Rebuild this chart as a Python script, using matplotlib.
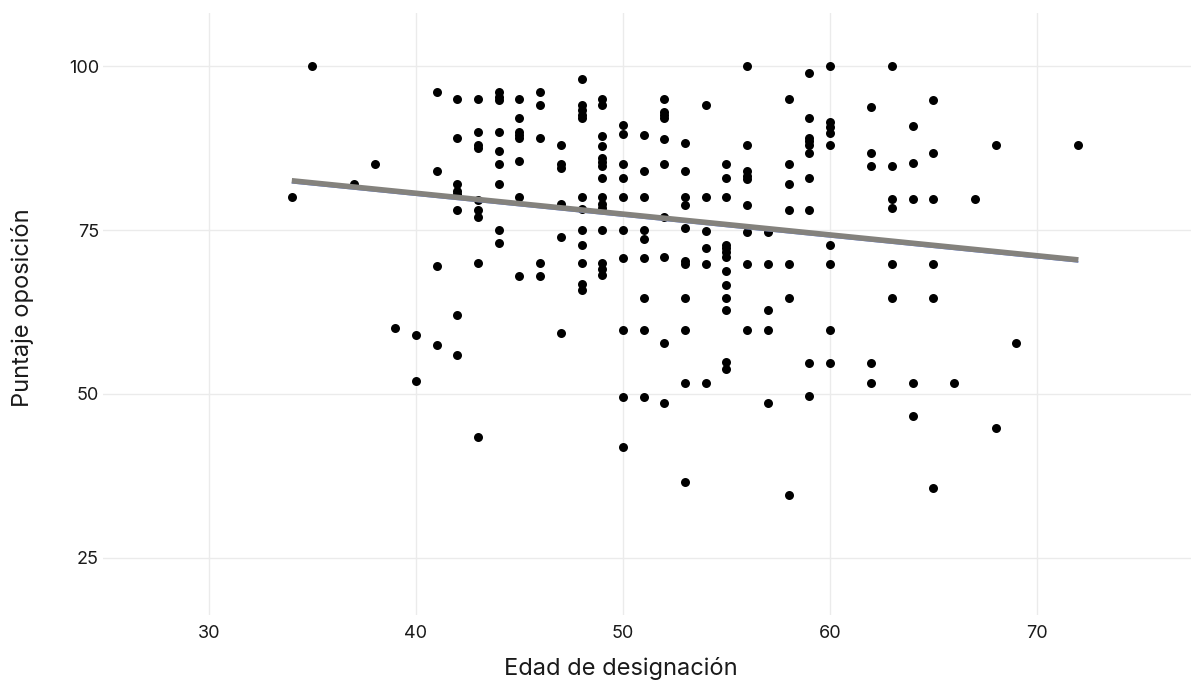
import numpy as np
import matplotlib
matplotlib.use('Agg')
import matplotlib.pyplot as plt

# Puntaje de oposición por edad de designación
puntajes = {
    34: [80],
    35: [100],
    37: [82],
    38: [85],
    39: [60],
    40: [59, 52],
    41: [96, 84, 69.5, 57.5],
    42: [95, 89, 82, 81, 80.5, 78, 62, 56],
    43: [95, 90, 88, 87.5, 79.5, 78, 77, 70, 43.5],
    44: [96, 95.3, 94.8, 90, 87, 85, 82, 75, 73],
    45: [95, 92, 90, 89.5, 89, 85.5, 80, 68],
    46: [96, 94, 89, 70, 68],
    47: [88, 85, 84.5, 79, 74, 59.3],
    48: [98, 94, 93.3, 92.5, 92, 80, 78.2, 75, 72.7, 70, 66.8, 65.8],
    49: [95, 94, 89.3, 87.8, 86, 85.3, 84.7, 83, 80, 79, 78.4, 75, 70, 69, 68.2],
    50: [91, 89.7, 85, 83, 80, 75, 70.8, 59.8, 49.6, 41.9],
    51: [89.5, 84, 80, 75, 73.7, 70.8, 64.7, 59.8, 49.6],
    52: [95, 93, 92.5, 92, 88.8, 85, 77, 70.9, 57.7, 48.7],
    53: [88.3, 84, 80, 78.8, 75.3, 70.2, 69.8, 64.7, 59.8, 51.7, 36.6],
    54: [94, 80, 74.8, 72.3, 69.8, 51.7],
    55: [85, 83, 80, 72.7, 72.2, 71.6, 70.9, 68.8, 66.6, 64.7, 62.8, 54.9, 53.8],
    56: [100, 88, 84, 83.3, 82.8, 78.8, 74.7, 69.8, 59.8],
    57: [74.7, 69.8, 62.8, 59.8, 48.7],
    58: [95, 85, 82, 78, 69.8, 64.7, 34.6],
    59: [99, 92, 89.1, 88.5, 87.9, 86.7, 83, 78, 54.8, 49.7],
    60: [100, 91.5, 90.7, 89.8, 87.9, 72.7, 69.8, 59.8, 54.8],
    62: [93.8, 86.8, 84.8, 54.8, 51.7],
    63: [100, 84.8, 79.8, 78.4, 69.8, 64.7],
    64: [90.9, 85.2, 79.8, 51.7, 46.7],
    65: [94.8, 86.8, 79.8, 69.8, 64.7, 35.6],
    66: [51.7],
    67: [79.8],
    68: [87.9, 44.8],
    69: [57.7],
    72: [87.9],
}

edad = np.array([e for e, vals in puntajes.items() for _ in vals], dtype=float)
puntaje = np.array([v for vals in puntajes.values() for v in vals], dtype=float)

x_ticks = [30, 40, 50, 60, 70]
y_ticks = [25, 50, 75, 100]

plt.rcParams['font.family'] = ['Inter', 'DejaVu Sans']

fig = plt.figure(figsize=(11.91, 6.84), dpi=100)
ax = fig.add_axes([103 / 1191, 1 - 615 / 684, 1088 / 1191, 602 / 684])

ax.scatter(edad, puntaje, s=42, color='black', linewidths=0, zorder=3)

# linear fit (thin blue edge peeking under a grey band)
slope, intercept = np.polyfit(edad, puntaje, 1)
xs = np.array([edad.min(), edad.max()])
ax.plot(xs, intercept + slope * xs - 0.3, color='#5b7ff0', linewidth=1.2, zorder=4,
        solid_capstyle='butt')
ax.plot(xs, intercept + slope * xs, color='#84827d', linewidth=4.0, zorder=5,
        solid_capstyle='butt')

ax.set_xlim(24.88, 77.44)
ax.set_ylim(16.31, 108.08)
ax.set_xticks(x_ticks)
ax.set_yticks(y_ticks)
ax.grid(True, color='#ebebeb', linewidth=1.0)
ax.set_axisbelow(True)
for s in ax.spines.values():
    s.set_visible(False)
ax.tick_params(length=0, labelsize=13, colors='#1a1a1a')
ax.tick_params(axis='x', pad=7)
ax.tick_params(axis='y', pad=3)
ax.set_xlabel("Edad de designación", fontsize=17, color='#1a1a1a')
ax.set_ylabel("Puntaje oposición", fontsize=17, color='#1a1a1a')
ax.xaxis.set_label_coords(0.476, -0.070)
ax.yaxis.set_label_coords(-0.063, 0.51)

fig.savefig("out.png", dpi=100)
